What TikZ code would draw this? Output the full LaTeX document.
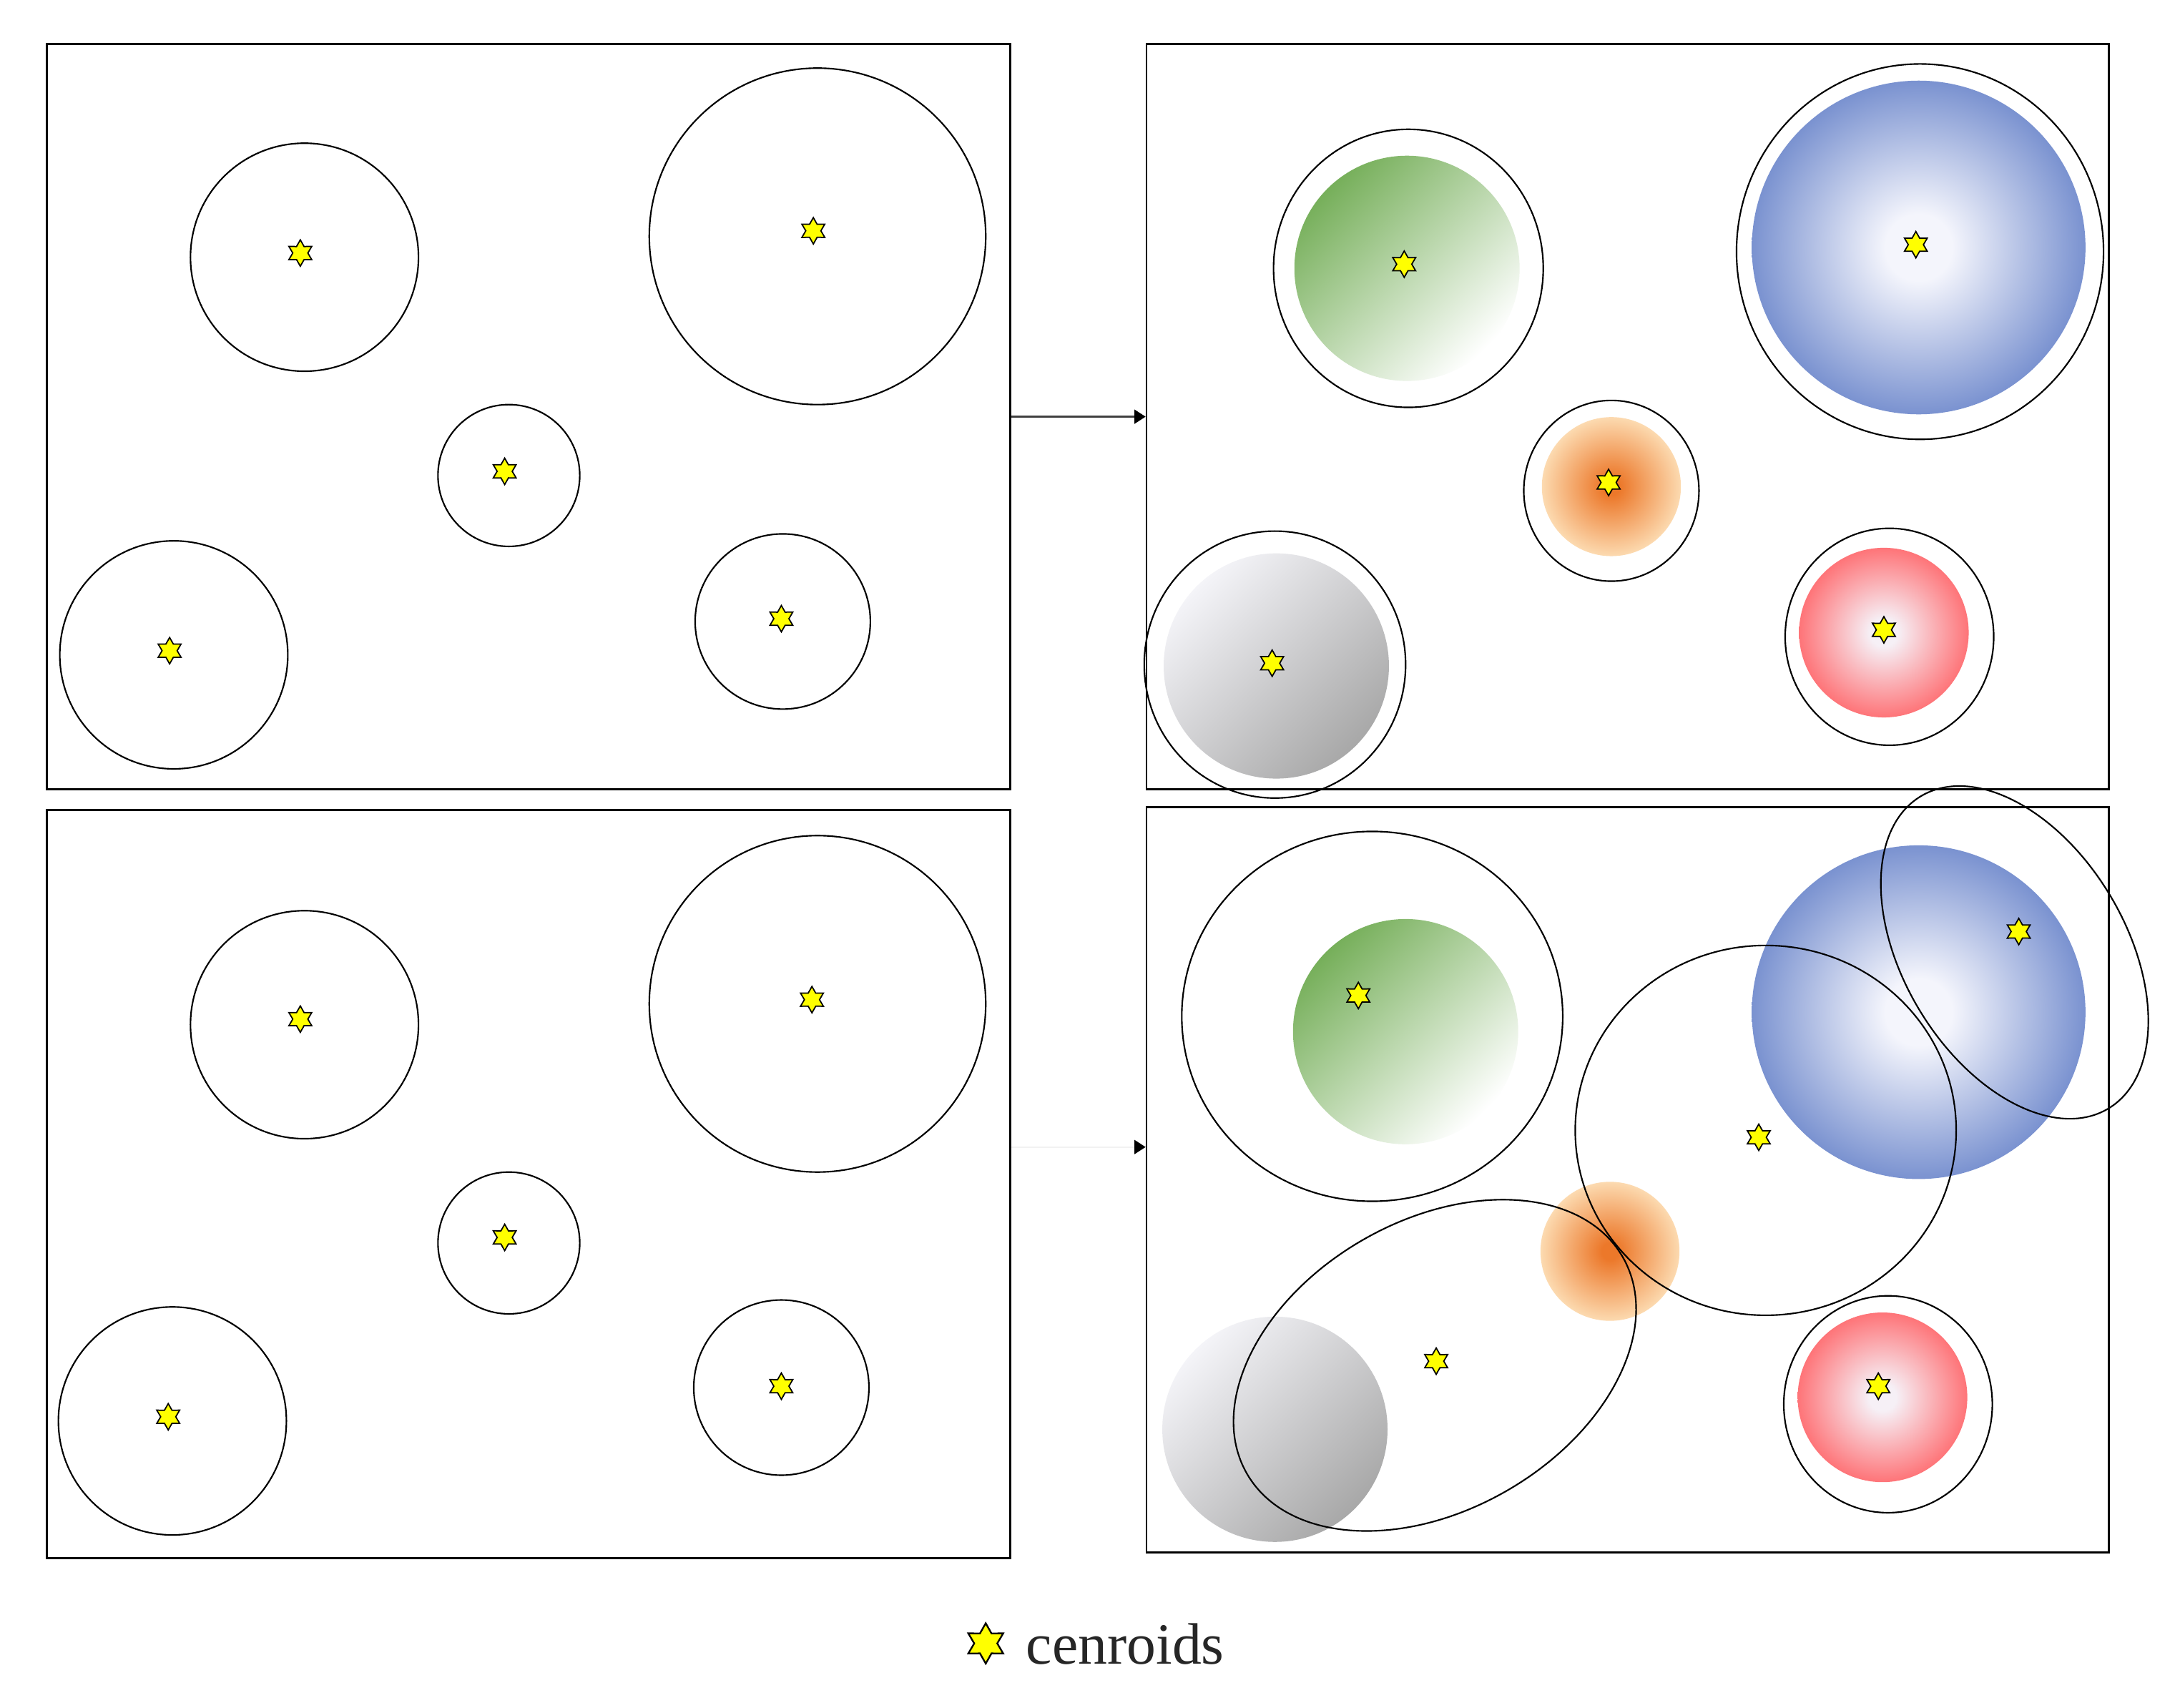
\documentclass[tikz,border=0pt]{standalone}
\usepackage{fontspec}
\setmainfont{Liberation Serif}
\usetikzlibrary{shapes.geometric,arrows.meta}
\definecolor{bluedge}{RGB}{122,146,208}
\definecolor{bluecen}{RGB}{244,245,252}
\definecolor{rededge}{RGB}{254,116,120}
\definecolor{redcen}{RGB}{246,240,246}
\definecolor{orcen}{RGB}{236,120,42}
\definecolor{oredge}{RGB}{252,218,176}
\definecolor{grtop}{RGB}{118,175,90}
\definecolor{gytop}{RGB}{244,244,248}
\definecolor{gybot}{RGB}{168,168,168}
\definecolor{starfill}{RGB}{255,255,0}
\pgfdeclareradialshading{blueball}{\pgfpoint{0bp}{0bp}}{color(0bp)=(bluecen); color(5bp)=(bluecen); color(25bp)=(bluedge); color(50bp)=(bluedge)}
\pgfdeclareradialshading{redball}{\pgfpoint{0bp}{0bp}}{color(0bp)=(redcen); color(4bp)=(redcen); color(25bp)=(rededge); color(50bp)=(rededge)}
\pgfdeclareradialshading{orball}{\pgfpoint{0bp}{0bp}}{color(0bp)=(orcen); color(3bp)=(orcen); color(25bp)=(oredge); color(50bp)=(oredge)}
\begin{document}
\begin{tikzpicture}[x=1pt,y=-1pt,
  panel/.style={draw=black,line width=1.4pt,minimum width=#1,minimum height=536pt,inner sep=0pt,anchor=north west},
  ring/.style={draw=black,line width=1.1pt},
  cstar/.style={star,star points=6,star point ratio=1.75,draw=black,line width=0.9pt,fill=starfill,inner sep=0pt,minimum size=19pt},
  flow/.style={line width=1.2pt,-{Triangle[length=8pt,width=10pt,color=black]}},
  greenball/.style={shading=axis,top color=grtop,bottom color=white,shading angle=45},
  grayball/.style={shading=axis,top color=gytop,bottom color=gybot,shading angle=45}
  ]
\useasboundingbox[fill=white] (0,0) rectangle (1568,1228);

% ---------- shaded clusters, top right ----------
\shade[greenball] (1012,193) circle[radius=81];
\shade[shading=blueball] (1380,178) circle[radius=120];
\shade[shading=orball] (1159,350) circle[radius=50];
\shade[grayball] (918,479) circle[radius=81];
\shade[shading=redball] (1355,455) circle[radius=61];

% ---------- shaded clusters, bottom right ----------
\shade[greenball] (1011,742) circle[radius=81];
\shade[shading=blueball] (1380,728) circle[radius=120];
\shade[shading=orball] (1158,900) circle[radius=50];
\shade[grayball] (917,1028) circle[radius=81];
\shade[shading=redball] (1354,1005) circle[radius=61];

% ---------- circles, top left ----------
\draw[ring] (219,185) circle[radius=82];
\draw[ring] (588,170) circle[radius=121];
\draw[ring] (366,342) circle[radius=51];
\draw[ring] (125,471) circle[radius=82];
\draw[ring] (563,447) circle[radius=63];

% ---------- circles, bottom left ----------
\draw[ring] (219,737) circle[radius=82];
\draw[ring] (588,722) circle[radius=121];
\draw[ring] (366,894) circle[radius=51];
\draw[ring] (124,1022) circle[radius=82];
\draw[ring] (562,998) circle[radius=63];

% ---------- circles, top right ----------
\draw[ring] (1013,193) ellipse[x radius=97,y radius=100];
\draw[ring] (1381,181) ellipse[x radius=132,y radius=135];
\draw[ring] (1159,353) ellipse[x radius=63,y radius=65];
\draw[ring] (917,478) ellipse[x radius=94,y radius=96];
\draw[ring] (1359,458) ellipse[x radius=75,y radius=78];

% ---------- ellipses, bottom right ----------
\draw[ring] (987,731) ellipse[x radius=137,y radius=133];
\draw[ring,rotate around={-59:(1449,685)}] (1449,685) ellipse[x radius=131,y radius=80];
\draw[ring] (1270,813) ellipse[x radius=137,y radius=133];
\draw[ring,rotate around={30:(1032,982)}] (1032,982) ellipse[x radius=156,y radius=104];
\draw[ring] (1358,1010) ellipse[x radius=75,y radius=78];

% ---------- panels ----------
\node[panel=693pt] (tl) at (33,31) {};
\node[panel=692pt] (tr) at (824,31) {};
\node[panel=693pt,minimum height=538pt] (bl) at (33,582) {};
\node[panel=692pt] (br) at (824,580) {};

% ---------- arrows ----------
\coordinate (low) at (0,825);
\draw[flow,draw=black!75] (tl.east) -- (tr.west);
\draw[flow,draw=black!5] (bl.east |- low) -- (br.west |- low);

% ---------- centroids ----------
\node[cstar] (s1) at (216,182) {};
\node[cstar] (s2) at (585,166) {};
\node[cstar] (s3) at (363,339) {};
\node[cstar] (s4) at (122,468) {};
\node[cstar] (s5) at (562,445) {};
\node[cstar] (s6) at (216,733) {};
\node[cstar] (s7) at (584,719) {};
\node[cstar] (s8) at (363,890) {};
\node[cstar] (s9) at (121,1019) {};
\node[cstar] (s10) at (562,997) {};
\node[cstar] (s11) at (1010,190) {};
\node[cstar] (s12) at (1378,176) {};
\node[cstar] (s13) at (1157,347) {};
\node[cstar] (s14) at (915,477) {};
\node[cstar] (s15) at (1355,453) {};
\node[cstar] (s16) at (977,716) {};
\node[cstar] (s17) at (1452,670) {};
\node[cstar] (s18) at (1265,818) {};
\node[cstar] (s19) at (1033,979) {};
\node[cstar] (s20) at (1351,997) {};

% ---------- legend ----------
\node[cstar,minimum size=29pt,line width=1.2pt] (lstar) at (709,1182) {};
\node[anchor=base west,inner sep=0pt,text=black!85,font=\fontsize{42}{50}\selectfont] (lbl) at (738,1197) {cenroids};
\end{tikzpicture}
\end{document}
